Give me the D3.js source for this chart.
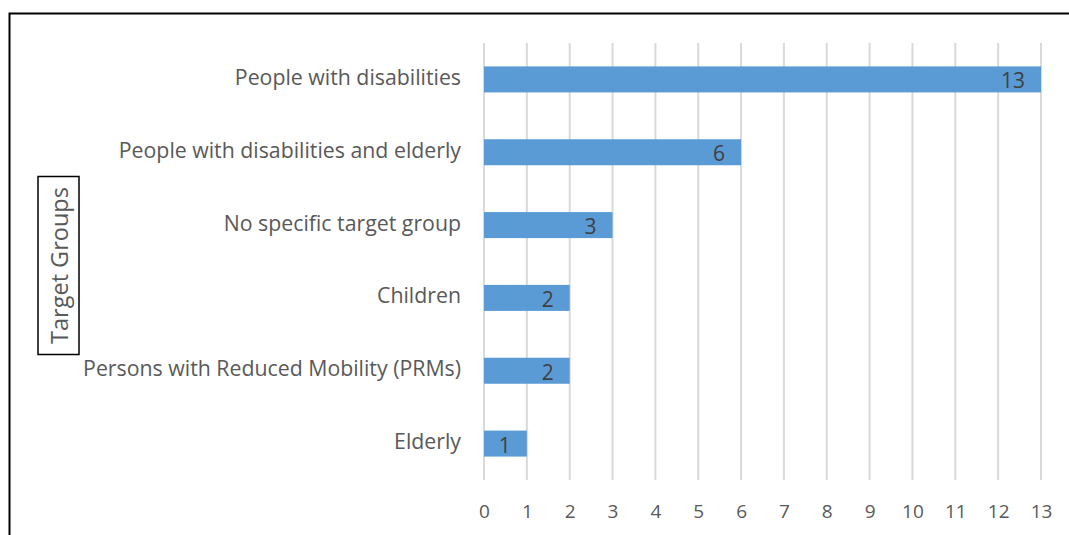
<!DOCTYPE html>
<html>
<head>
<meta charset="utf-8">
<script src="https://cdn.jsdelivr.net/npm/d3@7"></script>
<style>
  html, body { margin: 0; padding: 0; background: #fff; }
  svg { display: block; }
</style>
</head>
<body>
<svg id="chart" width="1069" height="535"></svg>
<script>
// Target groups addressed, with the number of items for each
const categories = [
  "People with disabilities",
  "People with disabilities and elderly",
  "No specific target group",
  "Children",
  "Persons with Reduced Mobility (PRMs)",
  "Elderly"
];
const counts = [13, 6, 3, 2, 2, 1];
const tickValues = [0, 1, 2, 3, 4, 5, 6, 7, 8, 9, 10, 11, 12, 13];
const axisTitle = "Target Groups";

const font = "'Open Sans', Lato, 'DejaVu Sans', sans-serif";
const svg = d3.select("#chart");

// chart frame
svg.append("path")
  .attr("d", "M9.5,535 L9.5,13.5 L1069,13.5")
  .attr("fill", "none")
  .attr("stroke", "#000")
  .attr("stroke-width", 2);

const plot = { left: 484, right: 1041, top: 43, bottom: 480 };

const x = d3.scaleLinear().domain([0, 13]).range([plot.left, plot.right]);
const y = d3.scaleBand().domain(categories).range([plot.top, plot.bottom]).paddingInner(0.643).paddingOuter(0.3215);

// vertical gridlines
svg.append("g")
  .selectAll("line")
  .data(tickValues)
  .join("line")
  .attr("x1", d => x(d)).attr("x2", d => x(d))
  .attr("y1", plot.top).attr("y2", plot.bottom)
  .attr("stroke", "#d9d9d9")
  .attr("stroke-width", 2);

// bars
svg.append("g")
  .selectAll("rect")
  .data(categories)
  .join("rect")
  .attr("x", x(0))
  .attr("y", d => y(d))
  .attr("width", (d, i) => x(counts[i]) - x(0))
  .attr("height", y.bandwidth())
  .attr("fill", "#5b9bd5");

// value labels at the inside end of each bar
svg.append("g")
  .selectAll("text")
  .data(categories)
  .join("text")
  .attr("x", (d, i) => x(counts[i]) - 16)
  .attr("y", d => y(d) + y.bandwidth() / 2)
  .attr("dy", 9)
  .attr("text-anchor", "end")
  .attr("font-family", font)
  .attr("font-size", 21)
  .attr("fill", "#404040")
  .text((d, i) => counts[i]);

// category axis labels
const yAxis = svg.append("g")
  .attr("transform", `translate(${plot.left},0)`)
  .call(d3.axisLeft(y).tickSize(0).tickPadding(23));
yAxis.select(".domain").remove();
yAxis.selectAll("text")
  .attr("dy", 5.5)
  .attr("font-family", font)
  .attr("font-size", 21.3)
  .attr("fill", "#595959");

// value axis tick labels
const xAxis = svg.append("g")
  .attr("transform", `translate(0,${plot.bottom})`)
  .call(d3.axisBottom(x).tickValues(tickValues).tickSize(0).tickFormat(d3.format("d")));
xAxis.select(".domain").remove();
xAxis.selectAll("text")
  .attr("y", 38)
  .attr("dy", 0)
  .attr("font-family", font)
  .attr("font-size", 19)
  .attr("fill", "#595959");

// boxed, rotated axis title
const titleG = svg.append("g").attr("transform", "translate(58.5,265.5) rotate(-90)");
titleG.append("rect")
  .attr("x", -89).attr("y", -20.5)
  .attr("width", 178).attr("height", 41)
  .attr("fill", "#fff")
  .attr("stroke", "#000")
  .attr("stroke-width", 1.5);
titleG.append("text")
  .attr("x", 0)
  .attr("y", 9.5)
  .attr("text-anchor", "middle")
  .attr("font-family", font)
  .attr("font-size", 23.5)
  .attr("fill", "#595959")
  .text(axisTitle);
</script>
</body>
</html>
